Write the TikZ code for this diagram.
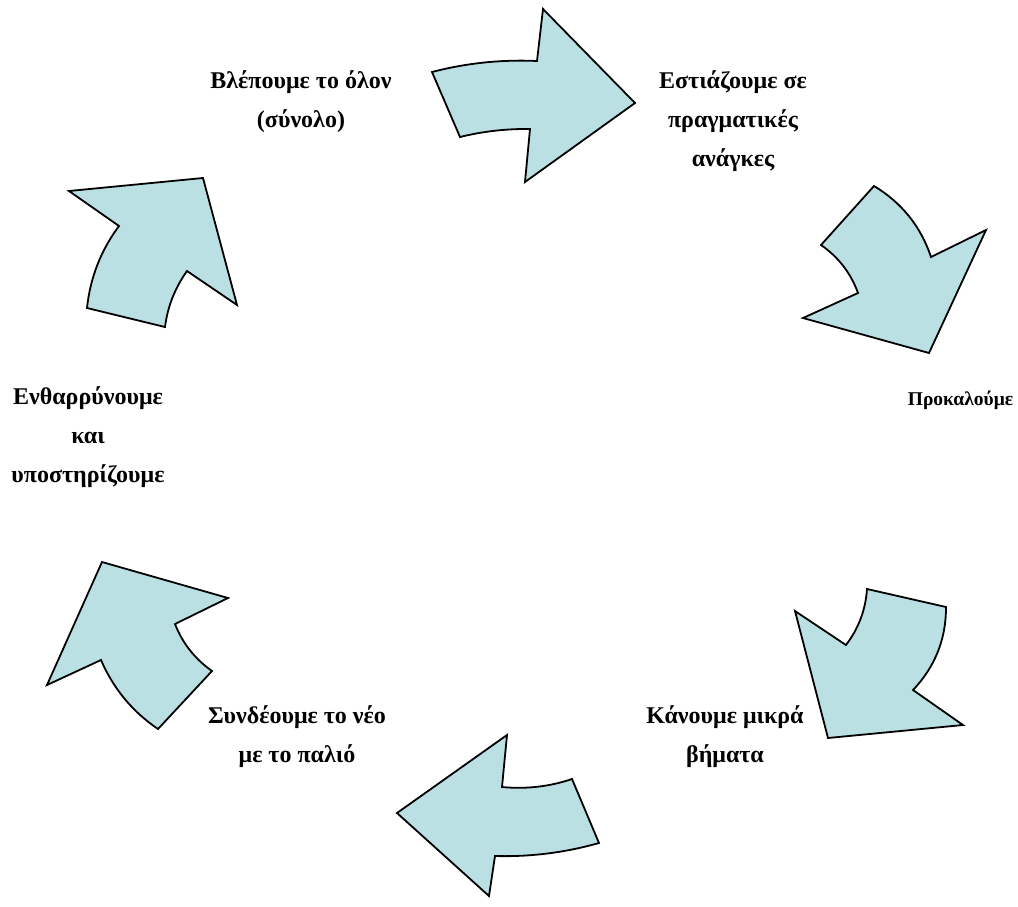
\documentclass[tikz,border=0pt]{standalone}
\usepackage{fontspec}
\setmainfont{Liberation Serif}
\definecolor{arrowfill}{RGB}{187,224,227}
\tikzset{
  arr/.style={draw=black, fill=arrowfill, line width=1.8pt, line join=miter},
  lbl/.style={font=\fontsize{24}{39}\selectfont\bfseries, align=center, inner sep=0pt},
  lblsmall/.style={font=\fontsize{19.5}{39}\selectfont\bfseries, align=center, inner sep=0pt}
}
\begin{document}
\begin{tikzpicture}[x=1pt,y=-1pt]
\useasboundingbox (0,0) rectangle (1018,906);
% arrow 1 (top)
\draw[arr] (432,72) .. controls (466.5,63) and (501.5,59.4) .. (537,61) -- (543,9) -- (635,103) -- (525,182) -- (530,129)
  .. controls (506.3,128.7) and (483,131.3) .. (460,137) -- cycle;
% arrow 2 (upper right)
\draw[arr] (874,186) .. controls (901.7,202.7) and (920.7,226.3) .. (931,257) -- (986,230) -- (929,353) -- (803,318) -- (858,293)
  .. controls (850.8,273.1) and (838.4,257.1) .. (821,245) -- cycle;
% arrow 3 (lower right)
\draw[arr] (867,589) -- (946,607) .. controls (946.1,639.1) and (935.1,666.7) .. (913,690) -- (963,725) -- (828,738) -- (795,611) -- (846,645)
  .. controls (858.6,628.4) and (865.6,609.8) .. cycle;
% arrow 4 (bottom)
\draw[arr] (507,735) -- (502,787) .. controls (525.9,789.3) and (549.2,786.7) .. (572,779) -- (599,843)
  .. controls (565,852.6) and (530.3,857) .. (495,856) -- (489,896) -- (397,813) -- cycle;
% arrow 5 (lower left)
\draw[arr] (102,562) -- (228,598) -- (175,624) .. controls (182.6,643.4) and (195,659) .. (212,671) -- (158,729)
  .. controls (132.3,711.5) and (113.3,688.5) .. (101,660) -- (47,685) -- cycle;
% arrow 6 (upper left)
\draw[arr] (69,191) -- (203,178) -- (237,305) -- (187,271) .. controls (175,287.9) and (167.6,306.5) .. (165,327) -- (87,308)
  .. controls (90.2,277.8) and (100.8,250.4) .. (119,226) -- cycle;
% labels
\node[lbl] (t1) at (301,101.5) {Βλέπουμε το όλον\\(σύνολο)};
\node[lbl] (t2) at (733,121) {Εστιάζουμε σε\\πραγματικές\\ανάγκες};
\node[lblsmall] (t3) at (960.5,400) {Προκαλούμε};
\node[lbl] (t4) at (725,736.5) {Κάνουμε μικρά\\βήματα};
\node[lbl] (t5) at (297,736.5) {Συνδέουμε το νέο\\με το παλιό};
\node[lbl] (t6) at (88,437) {Ενθαρρύνουμε\\και\\υποστηρίζουμε};
\end{tikzpicture}
\end{document}
